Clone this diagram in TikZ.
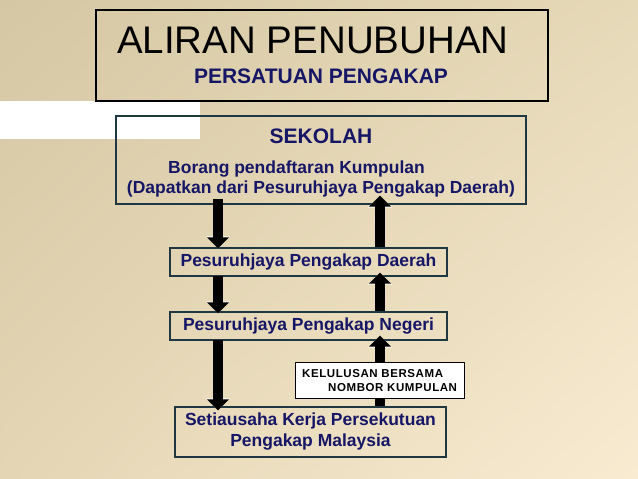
\documentclass[tikz,border=0pt]{standalone}
\usepackage{fontspec}
\setmainfont{Liberation Sans}
\usetikzlibrary{arrows.meta,shadings}
\definecolor{navy}{RGB}{22,22,102}
\definecolor{boxline}{RGB}{30,55,65}
\definecolor{bgUL}{RGB}{213,199,163}
\definecolor{bgUR}{RGB}{230,217,184}
\definecolor{bgLL}{RGB}{228,214,180}
\definecolor{bgLR}{RGB}{248,235,209}
\tikzset{
  lbl/.style={inner sep=0pt, text=navy, font=\bfseries\fontsize{17.5}{21}\selectfont},
  flowbox/.style={draw=boxline, line width=1.1pt, inner sep=0pt, minimum width=277pt, minimum height=28pt, text=navy, font=\bfseries\fontsize{17.5}{21}\selectfont},
  bigarrow/.style={line width=10pt, black, -{Triangle[width=21pt,length=11pt]},
    preaction={draw=white!85!bgUR, line width=10.8pt, -{Triangle[width=23pt,length=12pt]}}},
  smallcaps/.style={anchor=base west, inner sep=0pt, font=\bfseries\fontsize{11.5}{13}\selectfont\addfontfeature{LetterSpace=5}},
}
\begin{document}
\begin{tikzpicture}[x=1pt,y=-1pt]
\useasboundingbox (0,0) rectangle (638,479);
\shade[upper left=bgUL, upper right=bgUR, lower left=bgLL, lower right=bgLR] (0,0) rectangle (638,479);
\fill[white] (0,100.5) rectangle (200,138.5);
% title
\node[draw=black, line width=1.2pt, minimum width=452pt, minimum height=91pt, inner sep=0pt] (title) at (322,55.5) {};
\node[anchor=base west, inner sep=0pt, font=\fontsize{38.5}{44}\selectfont] (tmain) at (117,53) {ALIRAN PENUBUHAN};
\node[anchor=base, inner sep=0pt, text=navy, font=\bfseries\fontsize{21}{25}\selectfont] (tsub) at (321,83) {PERSATUAN PENGAKAP};
% sekolah
\node[draw=boxline, line width=1.1pt, minimum width=410pt, minimum height=88pt, inner sep=0pt] (sek) at (321,160) {};
\node[lbl, anchor=base, font=\bfseries\fontsize{21}{25}\selectfont] (sekt) at (321,143) {SEKOLAH};
\node[lbl, anchor=base west] (bor) at (168,173) {Borang pendaftaran Kumpulan};
\node[lbl, anchor=base] (dap) at (321,193) {(Dapatkan dari Pesuruhjaya Pengakap Daerah)};
% flow boxes
\node[flowbox] (dae) at (308.5,262) {Pesuruhjaya Pengakap Daerah};
\node[flowbox] (neg) at (308.5,326) {Pesuruhjaya Pengakap Negeri};
\node[flowbox, minimum width=271pt, minimum height=50pt, align=center] (set) at (310.5,432) {Setiausaha Kerja Persekutuan\\Pengakap Malaysia};
% arrow columns
\coordinate (dx) at (218,0);
\coordinate (ux) at (380,0);
\draw[bigarrow, shorten <=-6pt, shorten >=-1pt] (sek.south -| dx) -- (dae.north -| dx);
\draw[bigarrow, shorten <=-1pt, shorten >=-2pt] (dae.south -| dx) -- (neg.north -| dx);
\draw[bigarrow, shorten <=-1pt, shorten >=-4pt] (neg.south -| dx) -- (set.north -| dx);
\draw[bigarrow, shorten >=-9pt] (dae.north -| ux) -- (sek.south -| ux);
\draw[bigarrow, shorten >=-4pt] (neg.north -| ux) -- (dae.south -| ux);
\draw[bigarrow, shorten >=-5pt] (set.north -| ux) -- (neg.south -| ux);
% approval note
\node[draw=black, fill=white, line width=1pt, minimum width=169pt, minimum height=36pt, inner sep=0pt] (kel) at (379.5,380) {};
\node[smallcaps] (kel1) at (302,377) {KELULUSAN BERSAMA};
\node[smallcaps] (kel2) at (328,391) {NOMBOR KUMPULAN};
\end{tikzpicture}
\end{document}
